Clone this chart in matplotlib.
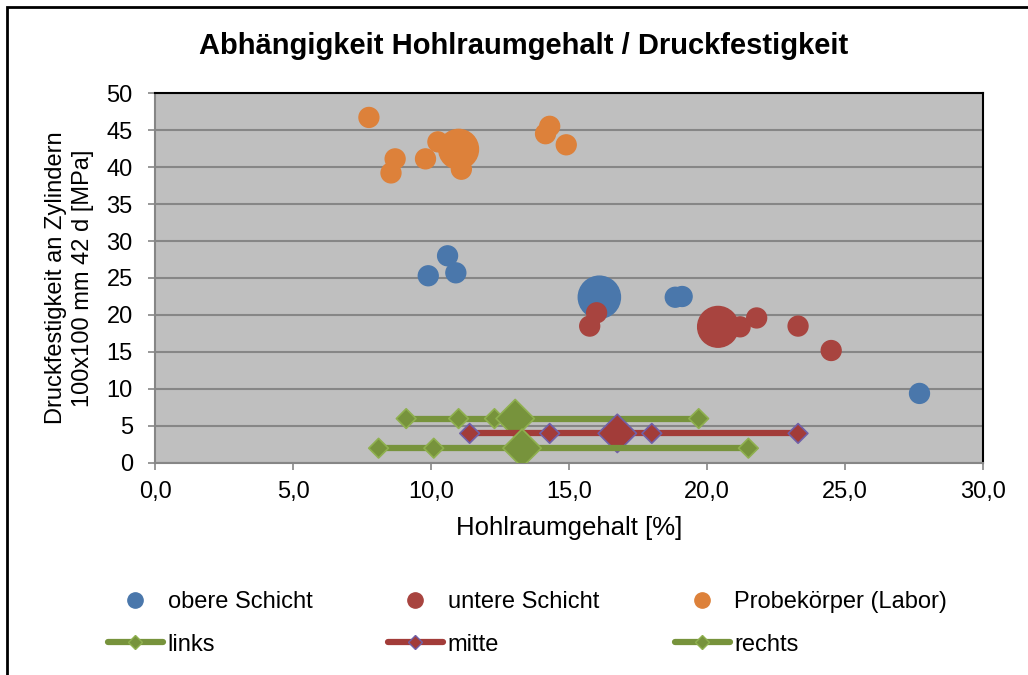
import matplotlib.pyplot as plt
from matplotlib.lines import Line2D
from matplotlib.patches import Rectangle

plt.rcParams["font.family"] = ["Liberation Sans", "DejaVu Sans"]

# bubble series: Hohlraumgehalt [%], Druckfestigkeit [MPa], relative bubble size
oben_x = [9.9, 10.6, 10.9, 16.1, 18.85, 19.1, 27.7]
oben_y = [25.3, 28.0, 25.7, 22.4, 22.4, 22.5, 9.4]
oben_s = [1, 1, 1, 4.5, 1, 1, 1]

unten_x = [16.0, 15.75, 20.4, 21.2, 21.8, 23.3, 24.5]
unten_y = [20.3, 18.5, 18.4, 18.4, 19.6, 18.5, 15.2]
unten_s = [1, 1, 4.2, 1, 1, 1, 1]

labor_x = [7.75, 8.7, 8.55, 9.8, 10.25, 11.1, 11.0, 14.3, 14.15, 14.9]
labor_y = [46.7, 41.1, 39.2, 41.1, 43.4, 39.7, 42.4, 45.5, 44.5, 43.0]
labor_s = [1, 1, 1, 1, 1, 1, 4.0, 1, 1, 1]

# range lines
links_x = [9.1, 11.0, 12.3, 13.05, 19.7]
links_y = [6, 6, 6, 6, 6]
links_s = [1, 1, 1, 3.8, 1]

mitte_x = [11.4, 14.3, 16.75, 18.0, 23.3]
mitte_y = [4, 4, 4, 4, 4]
mitte_s = [1, 1, 3.8, 1, 1]

rechts_x = [8.1, 10.1, 13.3, 21.5]
rechts_y = [2, 2, 2, 2]
rechts_s = [1, 1, 3.8, 1]

x_ticks = [0, 5, 10, 15, 20, 25, 30]
y_ticks = [0, 5, 10, 15, 20, 25, 30, 35, 40, 45, 50]

BLUE = "#4a77ab"
RED = "#a8443f"
ORANGE = "#dd813a"
GREEN = "#77933c"
GREEN_EDGE = "#8fb04f"
RED_LINE = "#a23c39"
PURPLE = "#7060a8"
GRID = "#868686"
FS = 17

fig = plt.figure(figsize=(10.28, 6.75), dpi=100)
ax = fig.add_axes([0.1508, 0.3141, 0.8054, 0.5481])
ax.set_facecolor("#bfbfbf")

small = 205
ax.scatter(oben_x, oben_y, s=[v * small for v in oben_s], color=BLUE, zorder=3)
ax.scatter(unten_x, unten_y, s=[v * small for v in unten_s], color=RED, zorder=3)
ax.scatter(labor_x, labor_y, s=[v * small for v in labor_s], color=ORANGE, zorder=3)

dsize = 100
for xs, ys, ss, col, edge in [
    (links_x, links_y, links_s, GREEN, GREEN_EDGE),
    (mitte_x, mitte_y, mitte_s, RED_LINE, PURPLE),
    (rechts_x, rechts_y, rechts_s, GREEN, GREEN_EDGE),
]:
    ax.plot(xs, ys, color=col, lw=4.5, solid_capstyle="round", zorder=4)
    ax.scatter(xs, ys, s=[v * dsize for v in ss], marker="D", color=col,
               edgecolor=edge, linewidth=1.2, zorder=4)

ax.set_xlim(0, 30)
ax.set_ylim(0, 50)
ax.set_xticks(x_ticks)
ax.set_xticklabels([f"{v:.1f}".replace(".", ",") for v in x_ticks])
ax.set_yticks(y_ticks)
ax.yaxis.grid(True, color=GRID, lw=1.5)
ax.set_axisbelow(True)
ax.tick_params(labelsize=FS, color=GRID, length=5, width=1.2)
ax.tick_params(axis="y", pad=11)
ax.tick_params(axis="x", pad=8)
for side in ["left", "bottom"]:
    ax.spines[side].set_color(GRID)
    ax.spines[side].set_linewidth(1.5)
for side in ["top", "right"]:
    ax.spines[side].set_color("black")
    ax.spines[side].set_linewidth(1.5)

ax.set_xlabel("Hohlraumgehalt [%]", fontsize=18.5, labelpad=9)
ax.set_ylabel("Druckfestigkeit an Zylindern\n100x100 mm 42 d [MPa]", fontsize=FS,
              labelpad=9, linespacing=1.3)
fig.text(0.509, 0.932, "Abhängigkeit Hohlraumgehalt / Druckfestigkeit",
         ha="center", va="center", fontsize=21, fontweight="bold")

h_oben = Line2D([], [], ls="none", marker="o", ms=11, color=BLUE)
h_unten = Line2D([], [], ls="none", marker="o", ms=11, color=RED)
h_labor = Line2D([], [], ls="none", marker="o", ms=11, color=ORANGE)
h_links = Line2D([], [], color=GREEN, lw=4.5, marker="D", ms=7,
                 markeredgecolor=GREEN_EDGE, solid_capstyle="round")
h_mitte = Line2D([], [], color=RED_LINE, lw=4.5, marker="D", ms=7,
                 markeredgecolor=PURPLE, solid_capstyle="round")
h_rechts = Line2D([], [], color=GREEN, lw=4.5, marker="D", ms=7,
                  markeredgecolor=GREEN_EDGE, solid_capstyle="round")
fig.legend(
    [h_oben, h_links, h_unten, h_mitte, h_labor, h_rechts],
    ["obere Schicht", "links", "untere Schicht", "mitte", "Probekörper (Labor)", "rechts"],
    ncol=3, loc="center left", bbox_to_anchor=(0.105, 0.0763), frameon=False,
    fontsize=FS, handlelength=2.33, handletextpad=0.2, columnspacing=3.2,
    labelspacing=0.85, borderaxespad=0, borderpad=0,
)

fig.patches.append(Rectangle((0.007, -0.01), 1.2, 1.0, transform=fig.transFigure,
                             fill=False, edgecolor="black", lw=2))

fig.savefig("out.png", dpi=100)
